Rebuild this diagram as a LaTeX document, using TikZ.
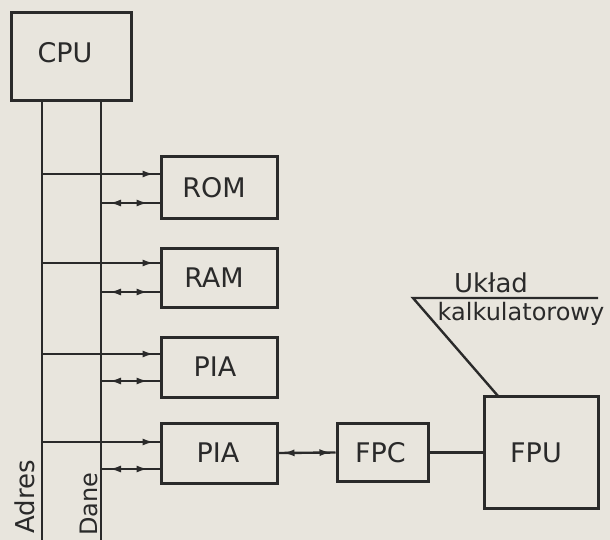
\documentclass[tikz,border=0pt]{standalone}
\usepackage{fontspec}
\setmainfont{DejaVu Sans}
\usetikzlibrary{arrows.meta,decorations.markings}
\definecolor{paper}{HTML}{E8E5DD}
\definecolor{ink}{HTML}{2A2A2A}
\tikzset{>={Latex[length=12pt,width=7pt]}}
\begin{document}
\begin{tikzpicture}[x=1pt,y=-1pt,
  box/.style={draw=ink,line width=3pt,inner sep=0pt},
  boxtext/.style={text=ink,inner sep=0pt,font=\fontsize{27}{30}\selectfont},
  bus/.style={draw=ink,line width=2.4pt},
  addr/.style={bus,postaction={decorate},decoration={markings,mark=at position -5pt with {\arrow[ink]{>}}}},
  data/.style={bus,postaction={decorate},decoration={markings,mark=at position 8pt with {\arrowreversed[ink]{>}},mark=at position -11pt with {\arrow[ink]{>}}}},
  both/.style={bus,postaction={decorate},decoration={markings,mark=at position 4pt with {\arrowreversed[ink]{>}},mark=at position -4pt with {\arrow[ink]{>}}}},
  lbl/.style={text=ink,inner sep=0pt,anchor=base}]
\fill[paper] (0,0) rectangle (610,540);
\useasboundingbox (0,0) rectangle (610,540);

% boxes
\node[box,minimum width=120pt,minimum height=88pt,label={[boxtext,xshift=-6pt,yshift=4pt]center:CPU}] (cpu) at (71,57) {};
\node[box,minimum width=116pt,minimum height=61pt,label={[boxtext,xshift=-5pt]center:ROM}] (rom) at (219,187.5) {};
\node[box,minimum width=116pt,minimum height=59pt,label={[boxtext,xshift=-5pt]center:RAM}] (ram) at (219,277.5) {};
\node[box,minimum width=116pt,minimum height=60pt,label={[boxtext,xshift=-4pt]center:PIA}] (pia1) at (219,367) {};
\node[box,minimum width=116pt,minimum height=60pt,label={[boxtext,xshift=-1pt]center:PIA}] (pia2) at (219,453) {};
\node[box,minimum width=91pt,minimum height=58pt,label={[boxtext,xshift=-2pt]center:FPC}] (fpc) at (382.5,452.5) {};
\node[box,minimum width=114pt,minimum height=112pt,label={[boxtext,xshift=-5pt]center:FPU}] (fpu) at (541,452.5) {};

% buses
\coordinate (abot) at (42,540);
\coordinate (dbot) at (101,540);
\draw[bus] (cpu.south -| abot) -- (abot);
\draw[bus] (cpu.south -| dbot) -- (dbot);

% address lines
\coordinate (a1) at (42,174);
\coordinate (a2) at (42,263);
\coordinate (a3) at (42,354);
\coordinate (a4) at (42,442);
\draw[addr] (a1) -- (a1 -| rom.west);
\draw[addr] (a2) -- (a2 -| ram.west);
\draw[addr] (a3) -- (a3 -| pia1.west);
\draw[addr] (a4) -- (a4 -| pia2.west);

% data lines
\coordinate (d1) at (101,203);
\coordinate (d2) at (101,292);
\coordinate (d3) at (101,381);
\coordinate (d4) at (101,469);
\draw[data] (d1) -- (d1 -| rom.west);
\draw[data] (d2) -- (d2 -| ram.west);
\draw[data] (d3) -- (d3 -| pia1.west);
\draw[data] (d4) -- (d4 -| pia2.west);

% peripheral links
\draw[both] (pia2.east) -- (fpc.west);
\draw[bus] (fpc.east) -- (fpu.west);

% calculator label
\coordinate (kl) at (413,298);
\coordinate (kr) at (598,298);
\coordinate (kf) at (498,396);
\draw[bus] (kr) -- (kl) -- (kf);
\node[lbl,font=\fontsize{26}{30}\selectfont] (uklad) at (491,292) {Układ};
\node[lbl,font=\fontsize{24}{30}\selectfont] (kalk) at (521,320) {kalkulatorowy};

% bus labels
\node[lbl,rotate=90,font=\fontsize{26}{30}\selectfont] (adres) at (34,497) {Adres};
\node[lbl,rotate=90,font=\fontsize{24}{30}\selectfont] (dane) at (97,504) {Dane};
\end{tikzpicture}
\end{document}
